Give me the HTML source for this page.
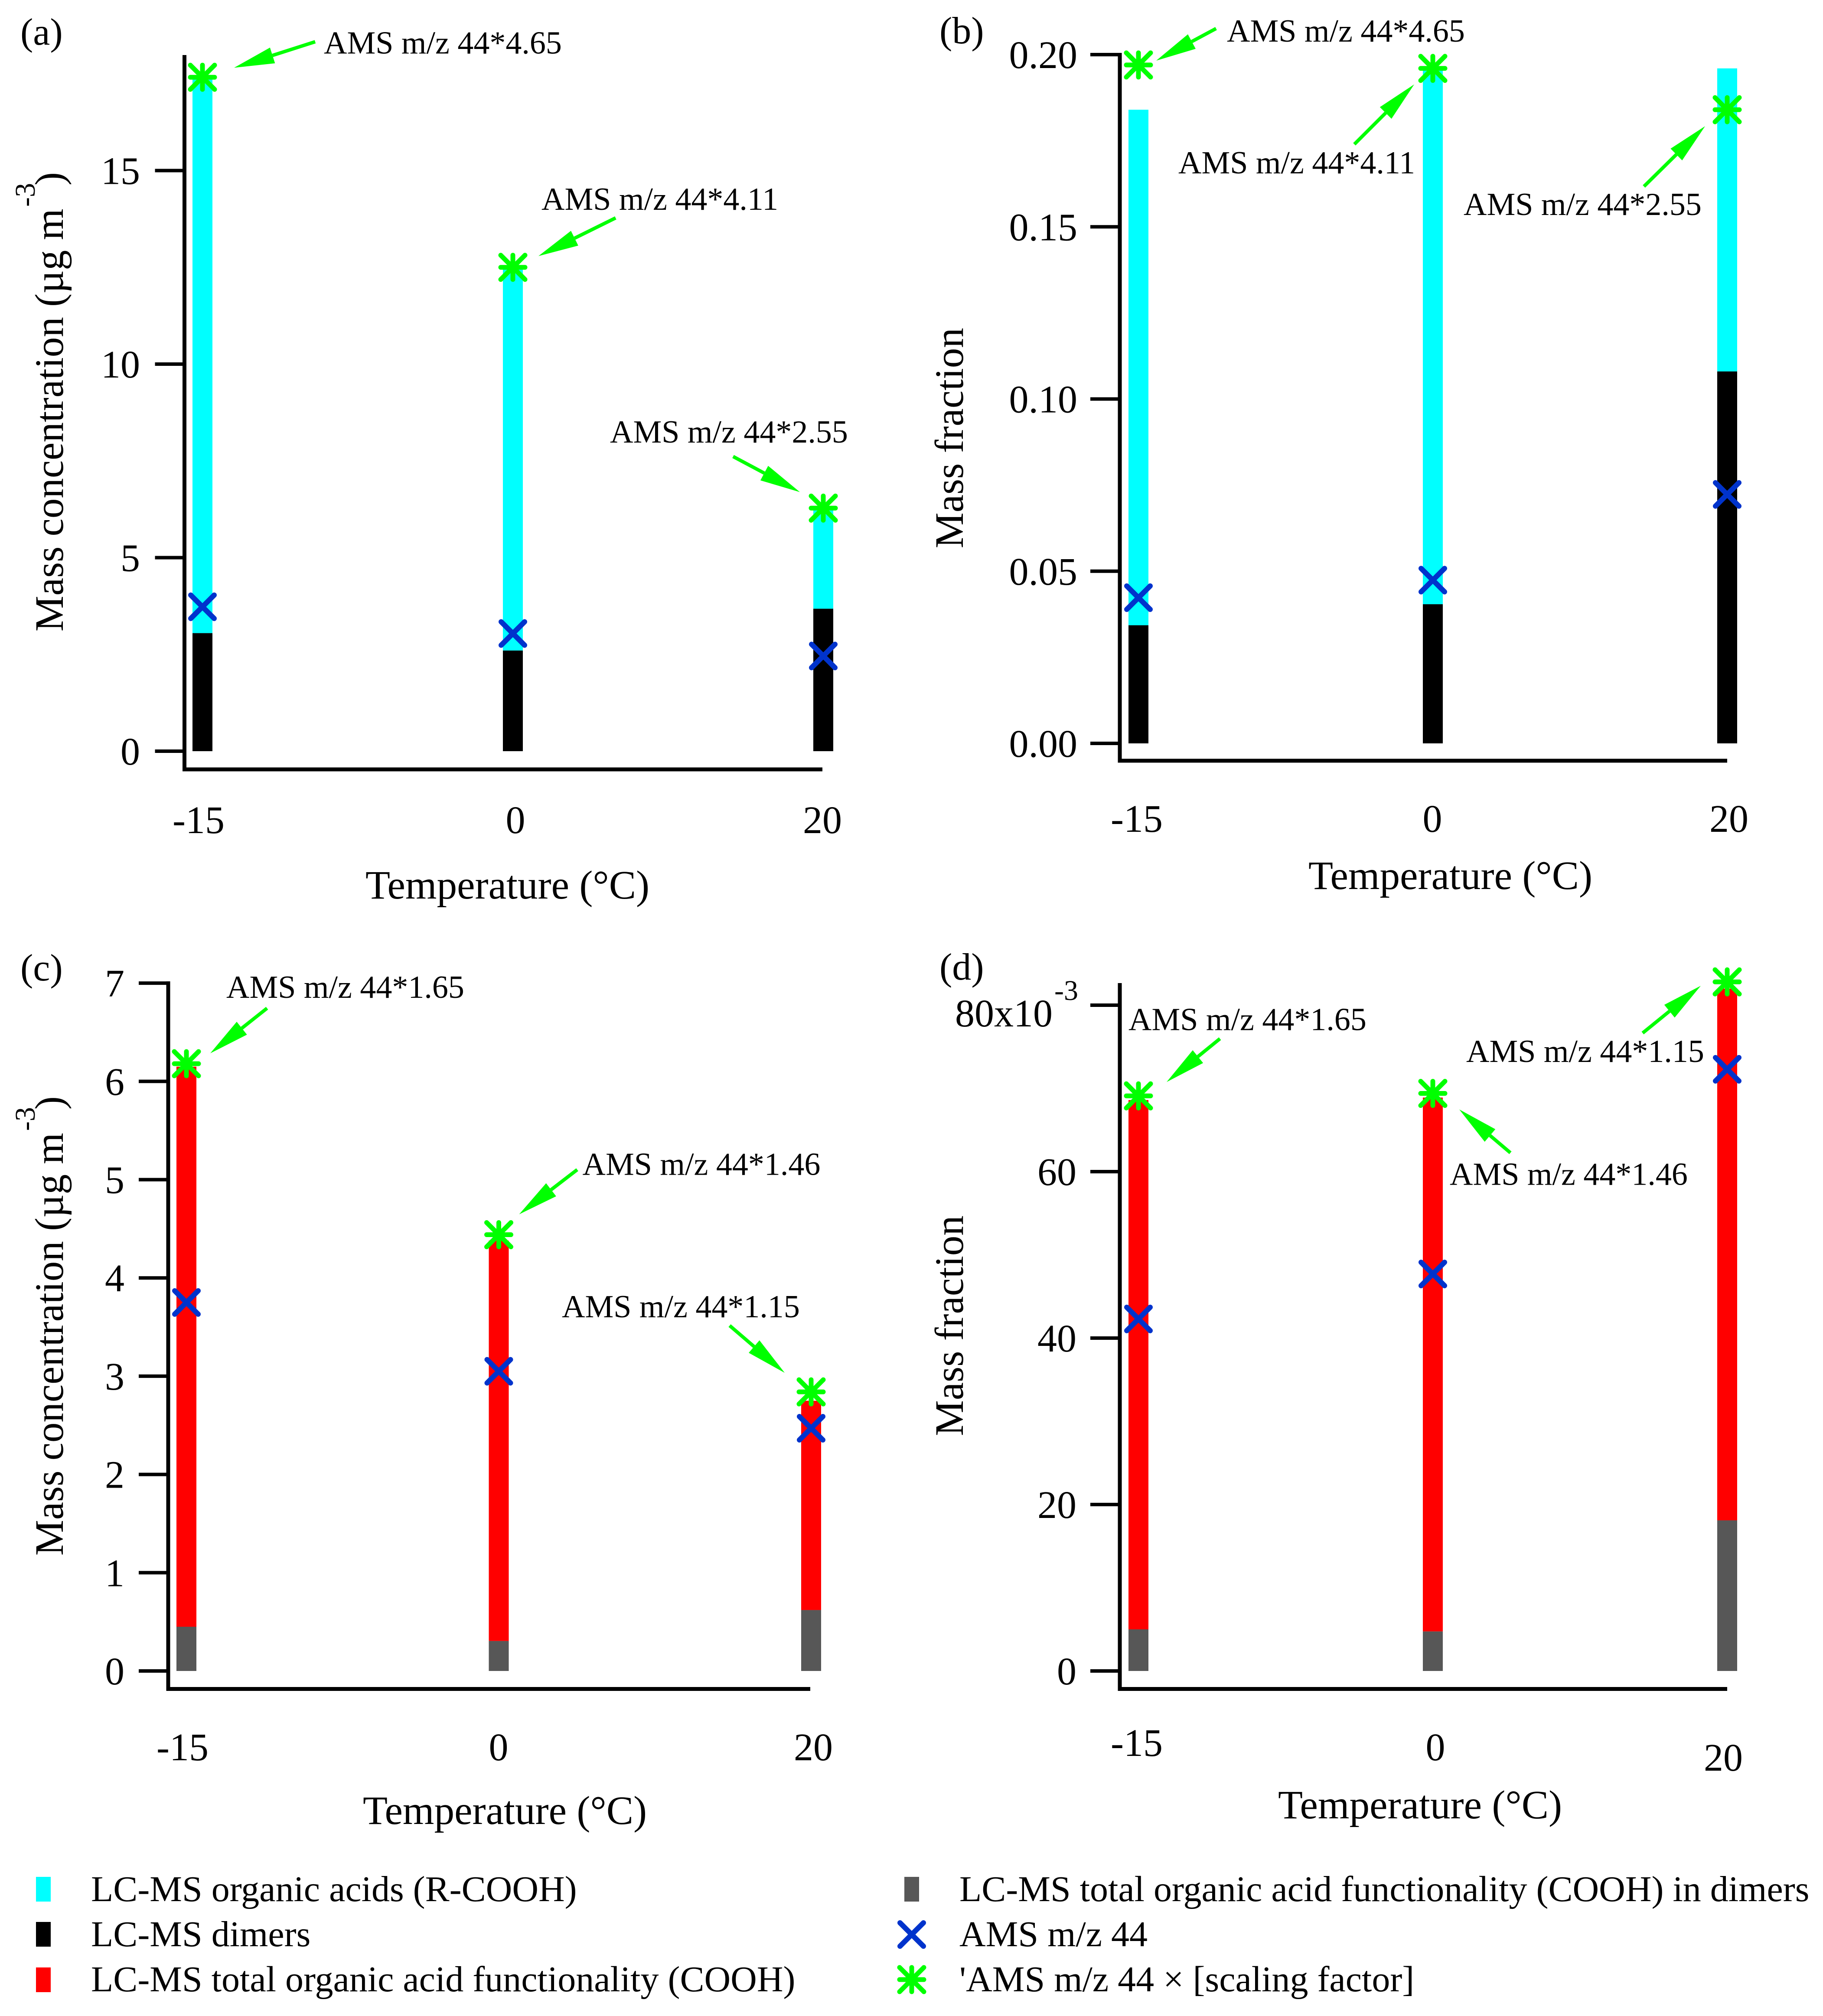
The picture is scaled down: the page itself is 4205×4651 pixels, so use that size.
<!DOCTYPE html>
<html lang="en">
<head>
<meta charset="utf-8">
<title>LC-MS and AMS m/z 44 comparison</title>
<style>
html,body{margin:0;padding:0;background:#fff;}
svg{display:block;}
text{font-family:"Liberation Serif","Noto Serif CJK SC",serif;fill:#000;}
</style>
</head>
<body>
<svg id="figure" xmlns="http://www.w3.org/2000/svg" width="4205" height="4651" viewBox="0 0 4205 4651">
  <rect x="0" y="0" width="4205" height="4651" fill="#ffffff"/>

  <text x="47" y="103" font-size="88">(a)</text>
  <text x="2167" y="100" font-size="88">(b)</text>
  <text x="47" y="2262" font-size="88">(c)</text>
  <text x="2167" y="2260" font-size="88">(d)</text>

  <g>
    <text transform="translate(145 1457) rotate(-90)" font-size="93">Mass concentration (µg m</text>
    <text transform="translate(80 477) rotate(-90)" font-size="66">-3</text>
    <text transform="translate(145 428) rotate(-90)" font-size="93">)</text>
  </g>
  <g>
    <text transform="translate(145 3589) rotate(-90)" font-size="93">Mass concentration (µg m</text>
    <text transform="translate(80 2609) rotate(-90)" font-size="66">-3</text>
    <text transform="translate(145 2560) rotate(-90)" font-size="93">)</text>
  </g>
  <text transform="translate(2221 1265) rotate(-90)" font-size="93">Mass fraction</text>
  <text transform="translate(2221 3313) rotate(-90)" font-size="93">Mass fraction</text>

  <text x="843" y="2073" font-size="93.3">Temperature (°C)</text>
  <text x="3018" y="2051" font-size="93.3">Temperature (°C)</text>
  <text x="837" y="4208" font-size="93.3">Temperature (°C)</text>
  <text x="2948" y="4195" font-size="93.3">Temperature (°C)</text>

  <g>
    <rect x="83" y="4330" width="34" height="57" fill="#00ffff"/>
    <text x="210" y="4386" font-size="84">LC-MS organic acids (R-COOH)</text>
    <rect x="83" y="4434" width="34" height="57" fill="#000000"/>
    <text x="210" y="4490" font-size="84">LC-MS dimers</text>
    <rect x="83" y="4539" width="34" height="57" fill="#ff0000"/>
    <text x="210" y="4594" font-size="84">LC-MS total organic acid functionality (COOH)</text>
    <rect x="2086" y="4330" width="34" height="57" fill="#575757"/>
    <text x="2213" y="4386" font-size="84">LC-MS total organic acid functionality (COOH) in dimers</text>
    <g stroke="#0033cc" stroke-width="12" stroke-linecap="round">
      <line x1="2076" y1="4436" x2="2130" y2="4490"/>
      <line x1="2076" y1="4490" x2="2130" y2="4436"/>
    </g>
    <text x="2213" y="4490" font-size="84">AMS m/z 44</text>
    <g stroke="#00ff00" stroke-width="11" stroke-linecap="round">
      <line x1="2075" y1="4539" x2="2131" y2="4595"/>
      <line x1="2075" y1="4595" x2="2131" y2="4539"/>
      <line x1="2075" y1="4567" x2="2131" y2="4567"/>
      <line x1="2103" y1="4539" x2="2103" y2="4595"/>
    </g>
    <text x="2213" y="4594" font-size="84">'AMS m/z 44 × [scaling factor]</text>
  </g>
</svg>

<script>
// Shared category labels
const temperatureLabels = ['-15', '0', '20'];

// Panel (a) mass concentration
const panelATicks = [0, 5, 10, 15];
const panelATickLabels = ['0', '5', '10', '15'];
const panelADimers = [3.05, 2.6, 3.68];
const panelAAcidsTop = [17.4, 12.45, 6.25];
const panelAAms = [3.73, 3.04, 2.46];
const panelAScaled = [17.41, 12.5, 6.28];
const panelAFactors = ['4.65', '4.11', '2.55'];

// Panel (b) mass fraction
const panelBTicks = [0, 0.05, 0.10, 0.15, 0.20];
const panelBTickLabels = ['0.00', '0.05', '0.10', '0.15', '0.20'];
const panelBDimers = [0.0343, 0.0404, 0.108];
const panelBAcidsTop = [0.184, 0.196, 0.196];
const panelBAms = [0.0423, 0.0474, 0.0723];
const panelBScaled = [0.197, 0.196, 0.184];
const panelBFactors = ['4.65', '4.11', '2.55'];

// Panel (c) COOH mass concentration
const panelCTicks = [0, 1, 2, 3, 4, 5, 6, 7];
const panelCTickLabels = ['0', '1', '2', '3', '4', '5', '6', '7'];
const panelCDimerCooh = [0.45, 0.305, 0.62];
const panelCTotalCooh = [6.15, 4.38, 2.75];
const panelCAms = [3.75, 3.05, 2.47];
const panelCScaled = [6.18, 4.44, 2.84];
const panelCFactors = ['1.65', '1.46', '1.15'];

// Panel (d) COOH mass fraction (x10^-3)
const panelDTicks = [0, 20, 40, 60, 80];
const panelDTickLabels = ['0', '20', '40', '60', '80x10'];
const panelDDimerCooh = [5, 4.75, 18.1];
const panelDTotalCooh = [68.6, 68.9, 82];
const panelDAms = [42.3, 47.7, 72.3];
const panelDScaled = [69.1, 69.4, 82.8];
const panelDFactors = ['1.65', '1.46', '1.15'];

const svgNS = 'http://www.w3.org/2000/svg';
const figure = document.getElementById('figure');

function make(tag, parent, attrs, name) {
  const node = document.createElementNS(svgNS, tag);
  for (const key in attrs) node.setAttribute(key, attrs[key]);
  
  
  parent.appendChild(node);
  return node;
}

function drawPanel(cfg) {
  const group = make('g', figure, {}, 'panel-' + cfg.id);
  const yScale = v => cfg.y0 - v * cfg.perUnit;
  const xScale = i => cfg.x0 + i * cfg.xStep;

  // Bars (drawn first so markers sit on top)
  cfg.lower.forEach((lowValue, i) => {
    const x = xScale(i) - 23;
    make('rect', group, {
      x: x, y: yScale(cfg.upper[i]), width: 46,
      height: yScale(lowValue) - yScale(cfg.upper[i]), fill: cfg.upperColor
    }, 'panel-' + cfg.id + '-upper-bar-' + temperatureLabels[i]);
    make('rect', group, {
      x: x, y: yScale(lowValue), width: 46,
      height: yScale(0) - yScale(lowValue), fill: cfg.lowerColor
    }, 'panel-' + cfg.id + '-lower-bar-' + temperatureLabels[i]);
  });

  // Axes
  make('line', group, {
    x1: cfg.axisX, y1: cfg.axisTop, x2: cfg.axisX, y2: cfg.axisY + 4.5,
    stroke: '#000', 'stroke-width': 9
  }, 'panel-' + cfg.id + '-y-axis');
  make('line', group, {
    x1: cfg.axisX - 4.5, y1: cfg.axisY, x2: cfg.axisEnd, y2: cfg.axisY,
    stroke: '#000', 'stroke-width': 9
  }, 'panel-' + cfg.id + '-x-axis');

  // Y ticks
  cfg.ticks.forEach((tick, i) => {
    const y = yScale(tick);
    make('line', group, {
      x1: cfg.axisX - 68, y1: y, x2: cfg.axisX, y2: y,
      stroke: '#000', 'stroke-width': 8
    }, 'panel-' + cfg.id + '-y-tick-' + cfg.tickLabels[i]);
    const hasPower = cfg.power && i === cfg.ticks.length - 1;
    const label = make('text', group, {
      x: hasPower ? cfg.tickRight - 55 : cfg.tickRight,
      y: y + (hasPower ? 49 : 31),
      'font-size': 90,
      'text-anchor': 'end'
    }, 'panel-' + cfg.id + '-y-tick-label-' + cfg.tickLabels[i]);
    label.textContent = cfg.tickLabels[i];
    if (hasPower) {
      const power = make('text', group, {
        x: cfg.tickRight - 51, y: y - 12, 'font-size': 66
      }, 'panel-' + cfg.id + '-y-tick-power');
      power.textContent = cfg.power;
    }
  });

  // X tick labels
  temperatureLabels.forEach((text, i) => {
    const label = make('text', group, {
      x: cfg.xLabelX[i], y: cfg.xLabelY[i], 'font-size': 90, 'text-anchor': 'middle'
    }, 'panel-' + cfg.id + '-x-tick-label-' + text);
    label.textContent = text;
  });

  // AMS markers
  cfg.ams.forEach((value, i) => {
    const cx = xScale(i), cy = yScale(value), r = 27;
    const marker = make('g', group, {
      stroke: '#0033cc', 'stroke-width': 12, 'stroke-linecap': 'round'
    }, 'panel-' + cfg.id + '-ams-marker-' + temperatureLabels[i]);
    make('line', marker, {x1: cx - r, y1: cy - r, x2: cx + r, y2: cy + r}, 'ams-marker-stroke');
    make('line', marker, {x1: cx - r, y1: cy + r, x2: cx + r, y2: cy - r}, 'ams-marker-stroke');
  });

  // Scaled AMS markers and annotations
  cfg.scaled.forEach((value, i) => {
    const cx = xScale(i), cy = yScale(value), r = 28;
    const marker = make('g', group, {
      stroke: '#00ff00', 'stroke-width': 11, 'stroke-linecap': 'round'
    }, 'panel-' + cfg.id + '-scaled-marker-' + temperatureLabels[i]);
    make('line', marker, {x1: cx - r, y1: cy - r, x2: cx + r, y2: cy + r}, 'scaled-marker-stroke');
    make('line', marker, {x1: cx - r, y1: cy + r, x2: cx + r, y2: cy - r}, 'scaled-marker-stroke');
    make('line', marker, {x1: cx - r, y1: cy, x2: cx + r, y2: cy}, 'scaled-marker-stroke');
    make('line', marker, {x1: cx, y1: cy - r, x2: cx, y2: cy + r}, 'scaled-marker-stroke');

    const off = cfg.notes[i];
    const note = make('text', group, {
      x: cx + off[0] - 3, y: cy + off[1], 'font-size': 74
    }, 'panel-' + cfg.id + '-annotation-' + temperatureLabels[i]);
    note.textContent = 'AMS m/z 44*' + cfg.factors[i];

    const tailX = cx + off[2], tailY = cy + off[3], tipX = cx + off[4], tipY = cy + off[5];
    const len = Math.hypot(tipX - tailX, tipY - tailY);
    const ux = (tipX - tailX) / len, uy = (tipY - tailY) / len;
    const backX = tipX - ux * 93, backY = tipY - uy * 93;
    make('line', group, {
      x1: tailX, y1: tailY, x2: backX, y2: backY, stroke: '#00ff00', 'stroke-width': 8
    }, 'panel-' + cfg.id + '-arrow-shaft-' + temperatureLabels[i]);
    make('polygon', group, {
      points: [tipX, tipY, backX - uy * 19, backY + ux * 19, backX + uy * 19, backY - ux * 19].join(' '),
      fill: '#00ff00'
    }, 'panel-' + cfg.id + '-arrow-head-' + temperatureLabels[i]);
  });
}

drawPanel({
  id: 'a', y0: 1733, perUnit: 89.3, x0: 467, xStep: 716,
  axisX: 425.5, axisY: 1775, axisTop: 127, axisEnd: 1897, tickRight: 323,
  ticks: panelATicks, tickLabels: panelATickLabels,
  lower: panelADimers, upper: panelAAcidsTop, ams: panelAAms, scaled: panelAScaled, factors: panelAFactors,
  lowerColor: '#000000', upperColor: '#00ffff',
  xLabelX: [458, 1189, 1897], xLabelY: [1922, 1922, 1922],
  notes: [[283, -55, 260, -82, 73, -22], [69, -133, 237, -114, 59, -26], [-489, -151, -208, -119, -54, -37]]
});

drawPanel({
  id: 'b', y0: 1715, perUnit: 7945, x0: 2626, xStep: 679,
  axisX: 2583, axisY: 1755, axisTop: 122, axisEnd: 3984, tickRight: 2485,
  ticks: panelBTicks, tickLabels: panelBTickLabels,
  lower: panelBDimers, upper: panelBAcidsTop, ams: panelBAms, scaled: panelBScaled, factors: panelBFactors,
  lowerColor: '#000000', upperColor: '#00ffff',
  xLabelX: [2622, 3304, 3988], xLabelY: [1919, 1919, 1919],
  notes: [[207, -54, 179, -84, 41, -10], [-584, 242, -181, 175, -43, 37], [-605, 243, -192, 177, -51, 38]]
});

drawPanel({
  id: 'c', y0: 3855, perUnit: 226.7, x0: 430, xStep: 720.5,
  axisX: 388, axisY: 3896.5, axisTop: 2264, axisEnd: 1869, tickRight: 287,
  ticks: panelCTicks, tickLabels: panelCTickLabels,
  lower: panelCDimerCooh, upper: panelCTotalCooh, ams: panelCAms, scaled: panelCScaled, factors: panelCFactors,
  lowerColor: '#575757', upperColor: '#ff0000',
  xLabelX: [421, 1150, 1876], xLabelY: [4061, 4061, 4061],
  notes: [[95, -152, 186, -128, 55, -24], [196, -138, 181, -150, 47, -47], [-572, -172, -188, -153, -61, -44]]
});

drawPanel({
  id: 'd', y0: 3855, perUnit: 19.2, x0: 2626, xStep: 679,
  axisX: 2583, axisY: 3896.5, axisTop: 2268, axisEnd: 3984, tickRight: 2483,
  ticks: panelDTicks, tickLabels: panelDTickLabels, power: '-3',
  lower: panelDDimerCooh, upper: panelDTotalCooh, ams: panelDAms, scaled: panelDScaled, factors: panelDFactors,
  lowerColor: '#575757', upperColor: '#ff0000',
  xLabelX: [2622, 3311, 3975], xLabelY: [4051, 4061, 4085],
  notes: [[-20, -152, 188, -132, 65, -32], [42, 211, 179, 137, 61, 37], [-599, 185, -195, 118, -61, 9]]
});
</script>
</body>
</html>
